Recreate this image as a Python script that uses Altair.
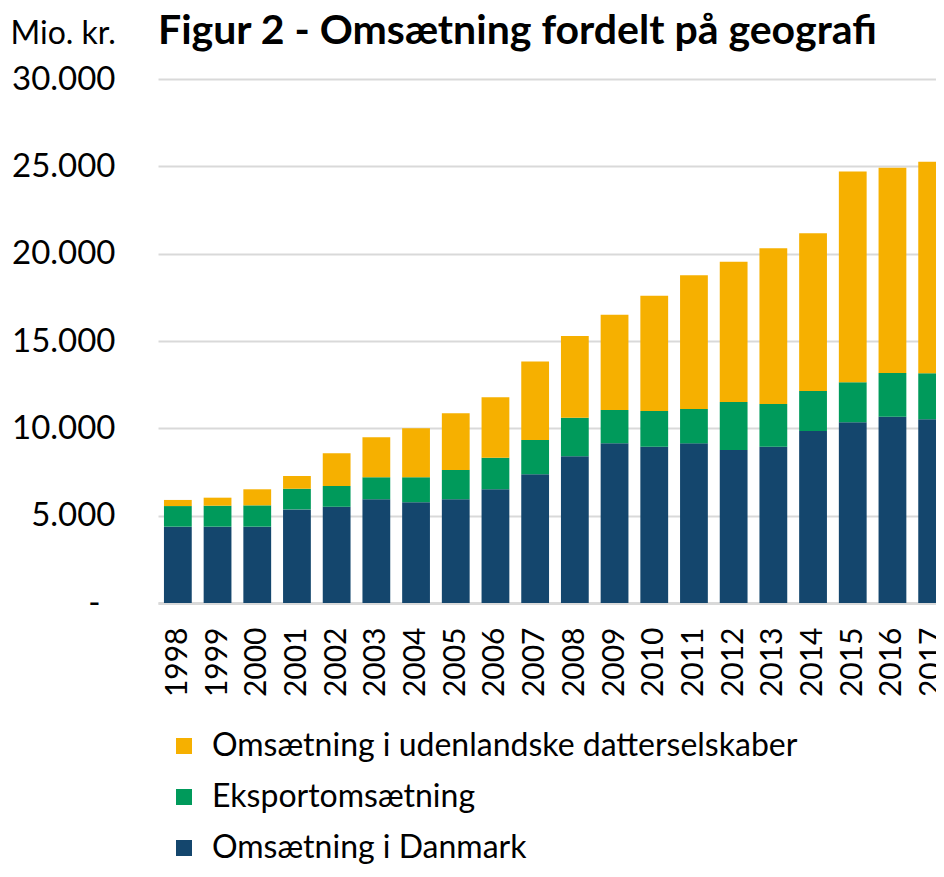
import altair as alt
import pandas as pd

years = ["1998", "1999", "2000", "2001", "2002", "2003", "2004", "2005", "2006", "2007",
         "2008", "2009", "2010", "2011", "2012", "2013", "2014", "2015", "2016", "2017"]
denmark = [4370, 4370, 4370, 5360, 5510, 5940, 5770, 5940, 6510, 7370,
           8400, 9140, 8950, 9140, 8760, 8950, 9850, 10350, 10670, 10520]
export = [1180, 1200, 1220, 1180, 1190, 1260, 1430, 1680, 1810, 1960,
          2210, 1910, 2040, 1970, 2750, 2440, 2290, 2290, 2500, 2630]
foreign = [350, 460, 920, 730, 1870, 2290, 2800, 3240, 3460, 4500,
           4680, 5460, 6600, 7650, 8030, 8920, 9030, 12060, 11750, 12110]

series_names = ["Omsætning i udenlandske datterselskaber", "Eksportomsætning", "Omsætning i Danmark"]
series_colors = ["#F6B000", "#009A5B", "#14466D"]
y_ticks = [0, 5000, 10000, 15000, 20000, 25000, 30000]

rows = []
for i, yr in enumerate(years):
    rows.append({"year": yr, "serie": series_names[2], "value": denmark[i], "ord": 0})
    rows.append({"year": yr, "serie": series_names[1], "value": export[i], "ord": 1})
    rows.append({"year": yr, "serie": series_names[0], "value": foreign[i], "ord": 2})
df = pd.DataFrame(rows)

FONT = "Lato"

chart = alt.Chart(df).mark_bar().encode(
    x=alt.X("year:N", sort=years,
            scale=alt.Scale(paddingInner=0.3, paddingOuter=0.15, range=[0, 794]),
            axis=alt.Axis(title=None, labelAngle=-90, labelFontSize=30, labelFont=FONT,
                          labelColor="#000000", ticks=False, domain=True,
                          domainColor="#D9D9D9", domainWidth=3, labelPadding=24,
                          labelAlign="right", labelBaseline="middle")),
    y=alt.Y("value:Q", stack="zero",
            scale=alt.Scale(domain=[0, 30000], nice=False),
            axis=alt.Axis(values=y_ticks, title="Mio. kr.", titleAngle=0,
                          titleAlign="left", titleBaseline="alphabetic",
                          titleX=-148, titleY=-36, titleFont=FONT, titleFontSize=32,
                          titleFontWeight="normal", titleColor="#000000",
                          labelFont=FONT, labelFontSize=33, labelColor="#000000",
                          labelExpr="datum.value == 0 ? '-' : replace(format(datum.value, ','), ',', '.')",
                          labelPadding={"condition": {"test": "datum.value == 0", "value": 58}, "value": 43},
                          ticks=False, domain=False,
                          grid=True, gridColor="#D9D9D9", gridWidth=2)),
    color=alt.Color("serie:N",
                    scale=alt.Scale(domain=series_names, range=series_colors),
                    legend=alt.Legend(title=None, orient="none", legendX=10, legendY=651,
                                      symbolType="square", symbolSize=256,
                                      symbolStrokeWidth=0, labelFont=FONT,
                                      labelFontSize=32, labelColor="#000000",
                                      labelOffset=12, rowPadding=19, padding=0,
                                      labelLimit=800)),
    order=alt.Order("ord:Q", sort="ascending"),
).properties(
    width=778,
    height=524,
    title=alt.TitleParams(text="Figur 2 - Omsætning fordelt på geografi", anchor="start",
                          frame="group",
                          font=FONT, fontSize=41, fontWeight="bold", color="#000000",
                          baseline="alphabetic", offset=-68),
    autosize=alt.AutoSizeParams(type="none"),
    padding={"left": 150, "top": 71, "right": 0, "bottom": 266},
).configure_view(stroke=None)

chart.save("out.html", embed_options={"renderer": "svg", "actions": False})
